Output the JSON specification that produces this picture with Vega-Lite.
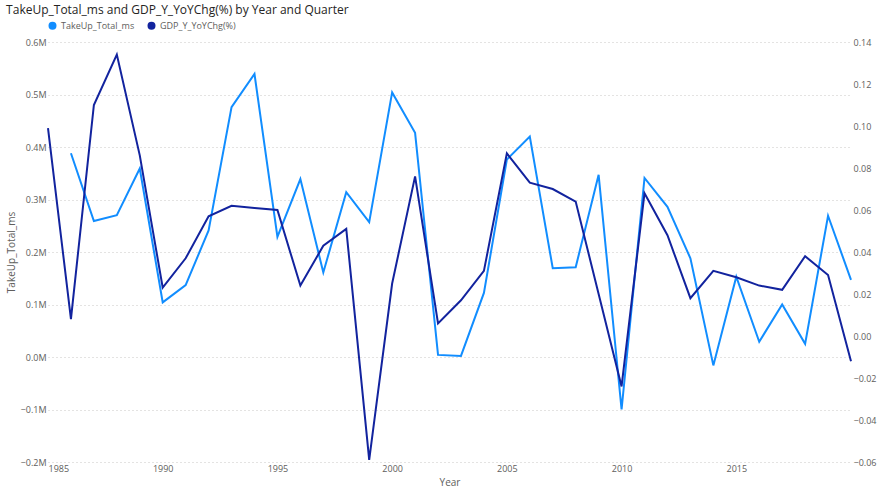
{
  "$schema": "https://vega.github.io/schema/vega-lite/v6.json",
  "autosize": {"type": "fit", "contains": "padding"},
  "width": 884,
  "height": 493,
  "padding": {"left": 6, "right": 8, "top": 4, "bottom": 6},
  "background": "white",
  "title": {
    "text": "TakeUp_Total_ms and GDP_Y_YoYChg(%) by Year and Quarter",
    "anchor": "start",
    "font": "Open Sans",
    "fontSize": 12,
    "fontWeight": "normal",
    "color": "#252423",
    "offset": 4
  },
  "data": {
    "values": [
      {"Year": 1985, "takeup": null, "gdp": 0.099},
      {"Year": 1986, "takeup": 0.388, "gdp": 0.008},
      {"Year": 1987, "takeup": 0.259, "gdp": 0.110},
      {"Year": 1988, "takeup": 0.270, "gdp": 0.134},
      {"Year": 1989, "takeup": 0.359, "gdp": 0.086},
      {"Year": 1990, "takeup": 0.104, "gdp": 0.023},
      {"Year": 1991, "takeup": 0.137, "gdp": 0.037},
      {"Year": 1992, "takeup": 0.241, "gdp": 0.057},
      {"Year": 1993, "takeup": 0.476, "gdp": 0.062},
      {"Year": 1994, "takeup": 0.539, "gdp": 0.061},
      {"Year": 1995, "takeup": 0.229, "gdp": 0.060},
      {"Year": 1996, "takeup": 0.339, "gdp": 0.024},
      {"Year": 1997, "takeup": 0.161, "gdp": 0.043},
      {"Year": 1998, "takeup": 0.314, "gdp": 0.051},
      {"Year": 1999, "takeup": 0.257, "gdp": -0.059},
      {"Year": 2000, "takeup": 0.504, "gdp": 0.025},
      {"Year": 2001, "takeup": 0.427, "gdp": 0.076},
      {"Year": 2002, "takeup": 0.004, "gdp": 0.006},
      {"Year": 2003, "takeup": 0.002, "gdp": 0.017},
      {"Year": 2004, "takeup": 0.122, "gdp": 0.031},
      {"Year": 2005, "takeup": 0.376, "gdp": 0.087},
      {"Year": 2006, "takeup": 0.420, "gdp": 0.073},
      {"Year": 2007, "takeup": 0.169, "gdp": 0.070},
      {"Year": 2008, "takeup": 0.171, "gdp": 0.064},
      {"Year": 2009, "takeup": 0.347, "gdp": 0.020},
      {"Year": 2010, "takeup": -0.100, "gdp": -0.024},
      {"Year": 2011, "takeup": 0.341, "gdp": 0.068},
      {"Year": 2012, "takeup": 0.286, "gdp": 0.048},
      {"Year": 2013, "takeup": 0.188, "gdp": 0.018},
      {"Year": 2014, "takeup": -0.016, "gdp": 0.031},
      {"Year": 2015, "takeup": 0.153, "gdp": 0.028},
      {"Year": 2016, "takeup": 0.029, "gdp": 0.024},
      {"Year": 2017, "takeup": 0.100, "gdp": 0.022},
      {"Year": 2018, "takeup": 0.025, "gdp": 0.038},
      {"Year": 2019, "takeup": 0.269, "gdp": 0.029},
      {"Year": 2020, "takeup": 0.147, "gdp": -0.012}
    ]
  },
  "encoding": {
    "x": {
      "field": "Year",
      "type": "quantitative",
      "title": "Year",
      "scale": {"domain": [1985, 2020], "nice": false, "zero": false},
      "axis": {
        "values": [1985, 1990, 1995, 2000, 2005, 2010, 2015],
        "format": "d",
        "grid": false,
        "domain": false,
        "ticks": false,
        "labelFontSize": 9,
        "labelColor": "#605E5C",
        "titleFontSize": 10,
        "titleFontWeight": "normal",
        "titleColor": "#605E5C"
      }
    }
  },
  "layer": [
    {
      "transform": [{"filter": "datum.takeup != null"}],
      "mark": {"type": "line", "strokeWidth": 2},
      "encoding": {
        "y": {
          "field": "takeup",
          "type": "quantitative",
          "title": "TakeUp_Total_ms",
          "scale": {"domain": [-0.2, 0.6], "nice": false},
          "axis": {
            "values": [-0.2, -0.1, 0, 0.1, 0.2, 0.3, 0.4, 0.5, 0.6],
            "labelExpr": "format(datum.value, '.1f') + 'M'",
            "gridDash": [1, 3],
            "gridColor": "#C8C6C4",
            "domain": false,
            "ticks": false,
            "labelFontSize": 9,
            "labelColor": "#605E5C",
            "titleFontSize": 10,
            "titleFontWeight": "normal",
            "titleColor": "#605E5C"
          }
        },
        "color": {"datum": "TakeUp_Total_ms"}
      }
    },
    {
      "mark": {"type": "line", "strokeWidth": 2},
      "encoding": {
        "y": {
          "field": "gdp",
          "type": "quantitative",
          "scale": {"domain": [-0.06, 0.14], "nice": false},
          "axis": {
            "orient": "right",
            "title": null,
            "values": [-0.06, -0.04, -0.02, 0, 0.02, 0.04, 0.06, 0.08, 0.1, 0.12, 0.14],
            "format": ".2f",
            "grid": false,
            "domain": false,
            "ticks": false,
            "labelFontSize": 9,
            "labelColor": "#605E5C"
          }
        },
        "color": {"datum": "GDP_Y_YoYChg(%)"}
      }
    }
  ],
  "resolve": {"scale": {"y": "independent"}},
  "config": {
    "font": "Open Sans",
    "view": {"stroke": null},
    "range": {"category": ["#118DFF", "#12239E"]},
    "legend": {
      "orient": "top",
      "direction": "horizontal",
      "title": null,
      "symbolType": "circle",
      "symbolSize": 16,
      "symbolStrokeWidth": 4,
      "columnPadding": 6,
      "labelFontSize": 9,
      "labelColor": "#605E5C",
      "offset": 6
    }
  }
}
